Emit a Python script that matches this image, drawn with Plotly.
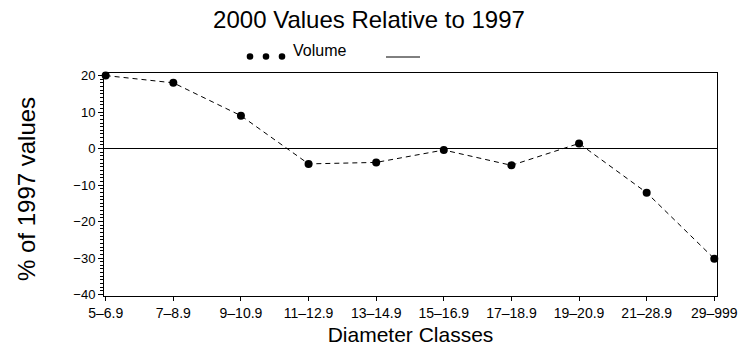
import plotly.graph_objects as go

categories = ["5–6.9", "7–8.9", "9–10.9", "11–12.9", "13–14.9",
              "15–16.9", "17–18.9", "19–20.9", "21–28.9", "29–999"]
volume = [20.0, 18.0, 9.0, -4.2, -3.8, -0.4, -4.6, 1.4, -12.1, -30.2]
y_ticks = [20, 10, 0, -10, -20, -30, -40]
y_ticktext = ["20", "10", "0", "−10", "−20", "−30", "−40"]

W, H = 750, 350
L, R, T, B = 104, 33, 73, 54
FONT = "Liberation Sans, Arial, sans-serif"


def px_x(x):
    return (x - L) / (W - L - R)


def px_y(y):
    return 1 - (y - T) / (H - T - B)


fig = go.Figure()
fig.add_trace(go.Scatter(
    x=list(range(len(categories))), y=volume, mode="lines+markers",
    line=dict(color="black", width=1, dash="5px,4px"),
    marker=dict(color="black", size=8, symbol="circle"),
    name="Volume", showlegend=False, cliponaxis=False,
))

shapes = []
# legend line
shapes.append(dict(type="line", xref="paper", yref="paper",
                   x0=px_x(386), x1=px_x(420), y0=px_y(57), y1=px_y(57),
                   line=dict(color="black", width=1)))
# legend dots
for cx in (250, 266, 282):
    shapes.append(dict(type="circle", xref="paper", yref="paper",
                       x0=px_x(cx - 3.3), x1=px_x(cx + 3.3),
                       y0=px_y(59.8), y1=px_y(53.2),
                       fillcolor="black", line=dict(color="black", width=0)))

annotations = [
    dict(text="Volume", xref="paper", yref="paper", x=px_x(291), y=px_y(51),
         xanchor="left", yanchor="middle", showarrow=False,
         font=dict(family=FONT, size=16, color="black")),
    dict(text="% of 1997 values", xref="paper", yref="paper",
         x=px_x(26), y=px_y(189), textangle=-90,
         xanchor="center", yanchor="middle", showarrow=False,
         font=dict(family=FONT, size=24, color="black")),
]

fig.update_layout(
    width=W, height=H,
    margin=dict(l=L, r=R, t=T, b=B, autoexpand=False),
    paper_bgcolor="white", plot_bgcolor="white",
    title=dict(text="2000 Values Relative to 1997", xref="container", x=369 / W,
               xanchor="center", yref="container", y=1 - 20 / H, yanchor="middle",
               font=dict(family=FONT, size=24, color="black")),
    shapes=shapes,
    annotations=annotations,
    showlegend=False,
    xaxis=dict(
        range=[-0.025, 9.04], automargin=False,
        tickmode="array", tickvals=list(range(len(categories))), ticktext=categories,
        ticks="outside", ticklen=4, tickcolor="black", tickwidth=1,
        showline=True, linecolor="black", linewidth=1, mirror=True,
        showgrid=False, zeroline=False,
        tickfont=dict(family=FONT, size=14, color="black"),
        title=dict(text="Diameter Classes", standoff=7,
                   font=dict(family=FONT, size=21, color="black")),
    ),
    yaxis=dict(
        range=[-40.4, 20.7], automargin=False,
        tickmode="array", tickvals=y_ticks, ticktext=y_ticktext,
        ticks="outside", ticklen=5, tickcolor="black", tickwidth=1,
        minor=dict(ticks="outside", ticklen=3, dtick=1, tickcolor="black", tickwidth=1, showgrid=False),
        showline=True, linecolor="black", linewidth=1, mirror=True,
        showgrid=False, zeroline=True, zerolinecolor="black", zerolinewidth=1,
        tickfont=dict(family=FONT, size=13, color="black"),
    ),
)

fig.write_html("out.html")
